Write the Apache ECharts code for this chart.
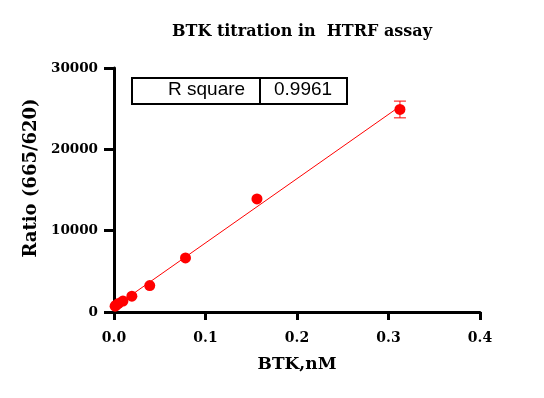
<!DOCTYPE html>
<html>
<head>
<meta charset="utf-8">
<script src="https://cdn.jsdelivr.net/npm/echarts@6/dist/echarts.min.js"></script>
<style>
  html, body { margin: 0; padding: 0; background: #fff; }
  #chart { width: 544px; height: 398px; }
</style>
</head>
<body>
<div id="chart"></div>
<script>
// BTK concentration (nM) and HTRF ratio
var btk = [0.3125, 0.15625, 0.078125, 0.0390625, 0.01953, 0.00977, 0.00488, 0.00244, 0.00122];
var ratio = [24900, 13900, 6650, 3250, 1950, 1350, 1050, 850, 720];
var ratioSD = [1030, 0, 0, 0, 0, 0, 0, 0, 0];
var xTicks = ['0.0', '0.1', '0.2', '0.3', '0.4'];
var rSquare = '0.9961';

// least squares line through the points
var n = btk.length, sx = 0, sy = 0, sxx = 0, sxy = 0;
for (var i = 0; i < n; i++) {
    sx += btk[i]; sy += ratio[i];
    sxx += btk[i] * btk[i]; sxy += btk[i] * ratio[i];
}
var slope = (n * sxy - sx * sy) / (n * sxx - sx * sx);
var icpt = (sy - slope * sx) / n;
var xMin = Math.min.apply(null, btk), xMax = Math.max.apply(null, btk);
var fitLine = [[xMin, icpt + slope * xMin], [xMax, icpt + slope * xMax]];

var points = btk.map(function (x, i) { return [x, ratio[i]]; });
var errData = btk.map(function (x, i) { return [x, ratio[i] - ratioSD[i], ratio[i] + ratioSD[i]]; })
    .filter(function (d) { return d[2] > d[1]; });

var chart = echarts.init(document.getElementById('chart'));
var serif = '"DejaVu Serif", "Times New Roman", serif';
var sans = '"Liberation Sans", Arial, sans-serif';

var option = {
    animation: false,
    title: {
        text: 'BTK titration in  HTRF assay',
        left: 297, top: 19, textAlign: 'center',
        textStyle: { fontFamily: serif, fontWeight: 'bold', fontSize: 16, color: '#000' }
    },
    grid: { left: 114, right: 64, top: 68, bottom: 86 },
    xAxis: {
        type: 'value', min: 0, max: 0.4, interval: 0.1,
        name: 'BTK,nM', nameLocation: 'middle', nameGap: 44,
        nameTextStyle: { fontFamily: serif, fontWeight: 'bold', fontSize: 17, color: '#000' },
        axisLine: { lineStyle: { color: '#000', width: 3 } },
        axisTick: { length: 8, lineStyle: { color: '#000', width: 3 } },
        axisLabel: {
            fontFamily: serif, fontWeight: 'bold', fontSize: 14, color: '#000', margin: 19,
            formatter: function (v) { return xTicks[Math.round(v * 10)]; }
        },
        splitLine: { show: false }
    },
    yAxis: {
        type: 'value', min: 0, max: 30000, interval: 10000,
        axisLine: { show: true, lineStyle: { color: '#000', width: 3 } },
        axisTick: { show: true, length: 10, lineStyle: { color: '#000', width: 3 } },
        axisLabel: {
            fontFamily: serif, fontWeight: 'bold', fontSize: 13.5, color: '#000', margin: 16,
            formatter: function (v) { return String(v); }
        },
        splitLine: { show: false }
    },
    series: [
        {
            type: 'line', data: fitLine, symbol: 'none',
            lineStyle: { color: '#ff0000', width: 1 }, z: 2
        },
        {
            type: 'custom', data: errData, z: 3,
            renderItem: function (params, api) {
                var top = api.coord([api.value(0), api.value(2)]);
                var bot = api.coord([api.value(0), api.value(1)]);
                var w = 6;
                var st = { stroke: '#ff0000', lineWidth: 1 };
                return {
                    type: 'group',
                    children: [
                        { type: 'line', shape: { x1: top[0], y1: top[1], x2: bot[0], y2: bot[1] }, style: st },
                        { type: 'line', shape: { x1: top[0] - w, y1: top[1], x2: top[0] + w, y2: top[1] }, style: st },
                        { type: 'line', shape: { x1: bot[0] - w, y1: bot[1], x2: bot[0] + w, y2: bot[1] }, style: st }
                    ]
                };
            }
        },
        {
            type: 'scatter', data: points, symbol: 'circle', symbolSize: 11,
            itemStyle: { color: '#ff0000', opacity: 1 }, z: 4
        }
    ],
    graphic: [
        {
            type: 'text', x: 31, y: 178, rotation: Math.PI / 2,
            style: {
                text: 'Ratio (665/620)', fill: '#000', align: 'center', verticalAlign: 'middle',
                font: 'bold 18px ' + serif
            }
        },
        {
            type: 'rect', left: 131, top: 77,
            shape: { width: 215, height: 26 },
            style: { fill: '#fff', stroke: '#000', lineWidth: 2 }
        },
        {
            type: 'line', shape: { x1: 260, y1: 77, x2: 260, y2: 103 },
            style: { stroke: '#000', lineWidth: 2 }
        },
        {
            type: 'text', x: 168, y: 90,
            style: { text: 'R square', font: '19px ' + sans, fill: '#000', verticalAlign: 'middle' }
        },
        {
            type: 'text', x: 274, y: 90,
            style: { text: rSquare, font: '19px ' + sans, fill: '#000', verticalAlign: 'middle' }
        }
    ]
};
chart.setOption(option);
window.addEventListener('resize', function () { chart.resize(); });
</script>
</body>
</html>
